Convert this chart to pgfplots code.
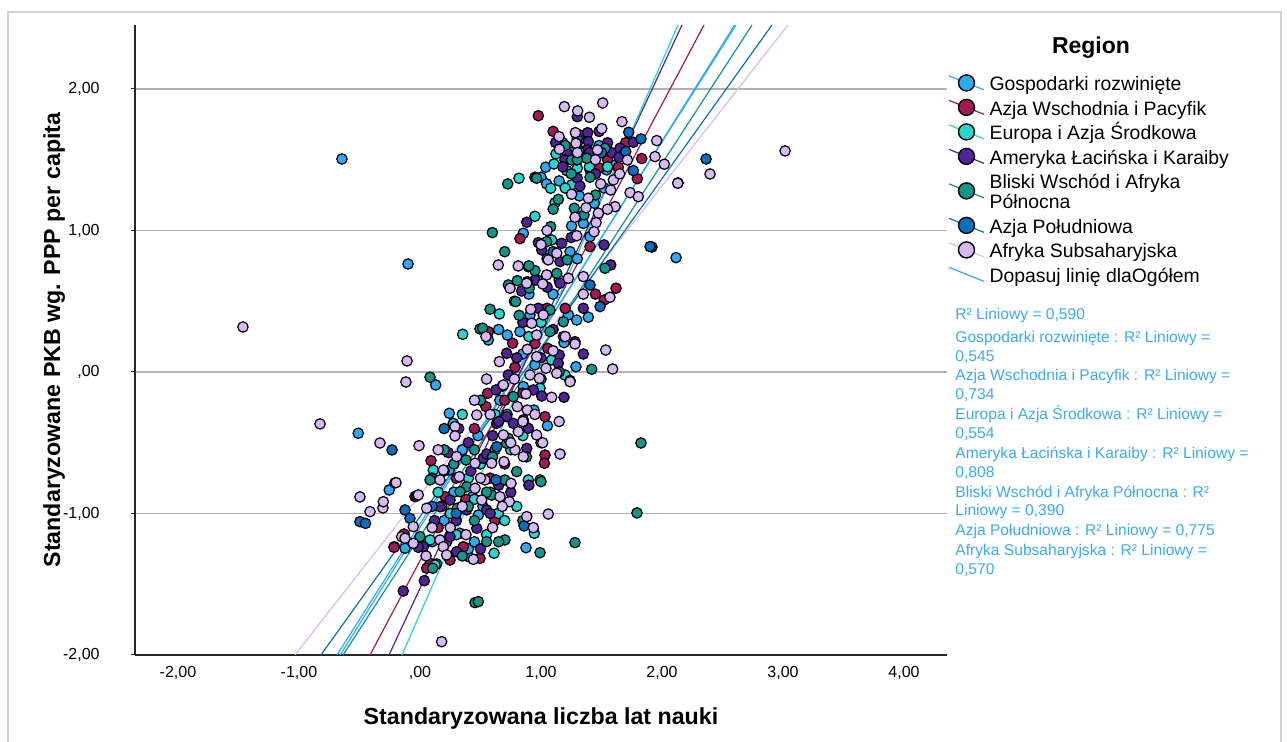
\documentclass[border=0pt]{standalone}
\usepackage{pgfplots}
\pgfplotsset{compat=1.18}
\usepackage{fontspec}
\setmainfont{Liberation Sans}
\definecolor{cG}{RGB}{46,170,245}
\definecolor{cAW}{RGB}{160,27,85}
\definecolor{cE}{RGB}{38,214,208}
\definecolor{cA}{RGB}{78,36,150}
\definecolor{cB}{RGB}{18,150,140}
\definecolor{cP}{RGB}{10,110,190}
\definecolor{cL}{RGB}{214,186,248}
\definecolor{cO}{RGB}{51,170,255}
\definecolor{cR}{RGB}{60,170,240}
\newcommand\ls{\rule[-2.5pt]{0pt}{11.7pt}}
\newcommand\ld{\rule[-2.5pt]{0pt}{2.5pt}}
\pgfplotsset{
  legimg/.style={legend image code/.code={%
    \draw[line width=0.6pt,#1] (0pt,3.5pt) -- (17.5pt,-3.5pt);
    \draw[fill=#1,draw=black,line width=0.7pt] (8.75pt,0pt) circle[radius=4pt];}},
  pts/.style={only marks, mark=*, mark size=2.6pt, mark options={fill=#1, draw=black, line width=0.6pt}, legimg=#1},
  fit/.style={#1, line width=0.6pt, forget plot}
}
\begin{document}
\begin{tikzpicture}
\useasboundingbox (0,0) rectangle (643.5pt,371pt);
\draw[black!18, line width=1pt] (4pt,0pt) -- (4pt,365pt) -- (640.5pt,365pt) -- (640.5pt,0pt);
\begin{axis}[
  at={(67.5pt,43.5pt)}, anchor=south west,
  scale only axis, width=406pt, height=315pt,
  xmin=-2.355, xmax=4.355, ymin=-2, ymax=2.452,
  axis x line*=bottom, axis y line*=left,
  axis line style={black!85, line width=0.6pt, -},
  xtick={-2,-1,0,1,2,3,4},
  xticklabels={{-2,00},{-1,00},{,00},{1,00},{2,00},{3,00},{4,00}},
  ytick={-2,-1,0,1,2},
  yticklabels={{-2,00},{-1,00},{,00},{1,00},{2,00}},
  tick align=outside, major tick length=2pt,
  xtick style={draw=none},
  ytick style={black!85, line width=0.5pt},
  ymajorgrids, grid style={black!30, line width=0.65pt},
  xticklabel style={font=\fontsize{8}{9.6}\selectfont, anchor=north, inner sep=0pt},
  yticklabel style={font=\fontsize{8}{9.6}\selectfont, anchor=east, inner sep=0pt},
  xticklabel shift=3.5pt, yticklabel shift=15.5pt,
  xlabel={Standaryzowana liczba lat nauki},
  ylabel={Standaryzowane PKB wg. PPP per capita},
  xlabel style={font=\bfseries\fontsize{11.6}{13}\selectfont, at={(axis description cs:0.5,-0.1016)}, anchor=center},
  ylabel style={font=\bfseries\fontsize{11.6}{13}\selectfont, at={(axis description cs:-0.0995,0.5)}, anchor=center},
  legend cell align=left,
  legend style={at={(1.0012,0.9257)}, anchor=north west, draw=none, fill=none, inner sep=0pt,
    font=\fontsize{9.7}{10}\selectfont, row sep=1.55pt, column sep=2.5pt,
    nodes={inner sep=0pt}, cells={anchor=west, align=left}},
]
% Gospodarki rozwiniete
\addplot[pts=cG] coordinates {
(-0.645,1.505) (-0.099,0.763) (0.130,-0.092) (-0.510,-0.433) (-0.254,-0.834) (-0.124,-1.246) (0.138,-1.357) (2.116,0.808)
(1.039,1.447) (1.212,1.423) (1.543,1.428) (1.612,1.463) (1.000,1.376) (1.047,1.329) (1.317,1.244) (1.441,1.192) (0.854,0.980) (1.253,1.032) (1.405,0.956) (1.240,0.850)
(0.970,0.650) (1.391,0.387) (1.295,0.367) (1.226,0.403) (0.909,0.403) (0.565,0.226) (0.722,0.261) (0.826,0.285) (1.190,0.207) (0.849,0.127) (1.289,0.037) (0.854,-0.104) (0.942,-0.269) (0.242,-0.292) (0.275,-0.363) (1.053,-0.380)
(0.242,-0.693) (0.435,-0.881) (0.482,-1.011) (0.399,-1.305) (0.331,-1.140) (0.876,-1.242)
(0.48,-0.45) (0.66,-0.20) (1.12,0.12) (0.78,0.50) (1.30,0.80) (1.48,1.60) (1.18,1.62)
(0.20,-1.05) (0.35,-0.55) (0.58,-0.85) (0.72,-0.30) (0.95,0.05) (1.10,0.55) (1.35,1.05) (1.52,1.30) (0.40,-1.25) (0.10,-1.20) (0.65,0.30) (1.25,1.55)
(0.52,-0.95) (0.28,-0.85) (0.90,0.55) (1.15,1.35) (0.62,-0.55) (0.18,-0.95) (1.00,-0.05) (0.45,-1.20)
};
\addlegendentry{\ls Gospodarki rozwinięte}
% Azja Wschodnia i Pacyfik
\addplot[pts=cAW] coordinates {
(0.978,1.811) (1.322,1.675) (1.832,1.508) (1.796,1.366) (1.405,1.428) (1.482,1.442) (1.639,1.447) (0.950,1.376) (0.826,0.942) (1.405,0.886)
(1.620,0.592) (1.523,0.509) (0.565,0.285) (0.766,0.203) (1.055,0.167) (0.785,0.033) (0.559,-0.151) (0.545,-0.245) (1.033,-0.316)
(0.091,-0.627) (1.033,-0.587) (1.028,-0.645) (0.207,-0.881) (-0.041,-0.881) (-0.212,-1.235) (0.358,-1.235) (0.496,-1.317) (0.083,-1.352)
(-0.028,-0.876) (-0.132,-1.145) (-0.215,-1.239) (0.055,-1.387) (0.248,-1.329)
(1.45,0.55) (0.95,0.20) (1.10,1.70)
(0.30,-0.75) (0.62,-1.05) (0.45,-0.40) (0.85,-0.15) (1.20,0.45) (1.30,1.10) (1.55,1.50) (0.15,-1.10) (1.70,1.62) (0.70,-0.65)
(0.38,-0.90) (0.70,-0.20) (1.25,1.50) (1.05,0.45) (0.22,-1.20) (0.58,-0.75)
};
\addlegendentry{\ls Azja Wschodnia i Pacyfik}
% Europa i Azja Srodkowa
\addplot[pts=cE] coordinates {
(0.353,0.266) (1.124,1.541) (1.300,1.440) (1.107,1.470) (0.818,1.369) (1.080,1.298) (1.253,1.322) (1.116,1.196) (1.088,0.933)
(0.656,0.410) (1.088,0.085) (1.198,-0.021) (0.992,-0.115)
(0.110,-0.693) (0.895,-0.763) (0.992,-0.763) (0.647,-0.999) (0.083,-1.187) (0.612,-1.281) (0.945,-1.140) (0.124,-1.364)
(0.75,-0.55) (0.62,-0.30) (0.90,0.25) (1.35,1.56) (1.55,1.45) (0.40,-0.75)
(0.25,-1.00) (0.50,-0.65) (0.80,-0.95) (0.35,-0.30) (1.00,0.35) (1.20,1.30) (0.95,1.10) (0.55,-1.15) (0.15,-0.85) (1.40,1.45) (0.68,-0.10)
(0.45,-0.90) (0.30,-1.15) (0.85,-0.45) (1.05,0.80) (1.30,1.62) (0.70,-1.05) (0.20,-0.70) (1.15,0.65)
};
\addlegendentry{\ls Europa i Azja Środkowa}
% Ameryka Lacinska i Karaiby
\addplot[pts=cA] coordinates {
(1.300,1.804) (1.763,1.623) (1.121,1.621) (1.386,1.691) (1.391,1.628) (1.218,1.541) (1.386,1.569) (1.584,1.550) (1.653,1.581) (1.645,1.517)
(1.198,1.498) (1.295,1.498) (1.300,1.369) (1.322,1.314) (0.882,1.058) (0.978,0.914) (1.171,0.909) (1.006,0.862) (1.157,0.780) (1.521,0.898) (0.895,0.744)
(1.157,0.627) (1.576,0.756) (0.840,0.572) (0.978,0.450) (1.281,0.214) (1.350,0.127) (0.716,0.132) (1.151,0.120) (1.143,0.061) (0.730,-0.021)
(1.240,-0.060) (0.628,-0.127) (0.937,-0.127) (1.006,-0.170) (1.190,-0.179) (0.716,-0.316) (0.634,-0.363)
(0.234,-0.570) (0.523,-0.610) (0.551,-0.580) (0.882,-0.540) (0.895,-0.398) (0.771,-0.363) (0.248,-0.905) (0.551,-0.975) (0.386,-0.975)
(0.165,-0.952) (0.028,-1.235) (0.248,-1.164) (0.303,-1.270) (0.469,-1.105) (-0.014,-1.239) (-0.138,-1.548) (0.036,-1.475)
(0.30,-1.05) (0.40,-0.50) (0.65,-0.80) (0.10,-0.75) (0.90,-0.80) (0.80,0.10) (1.05,0.60) (1.25,0.95) (1.45,1.40) (1.55,1.62) (0.50,-1.25) (1.10,0.30) (0.60,-0.45) (1.35,0.45)
(0.42,-0.70) (0.58,-1.00) (0.75,-0.85) (0.12,-1.05) (0.85,0.35) (1.00,0.10) (1.18,1.45) (1.40,1.55) (1.48,1.70) (0.65,-0.35) (0.32,-0.40) (0.95,0.65)
};
\addlegendentry{\ls Ameryka Łacińska i Karaiby}
% Bliski Wschod i Afryka Polnocna
\addplot[pts=cB] coordinates {
(0.083,-0.037) (0.496,0.304) (1.826,-0.502) (1.793,-0.996) (1.281,-1.206) (0.455,-1.630) (0.482,-1.623)
(1.314,1.557) (1.529,1.581) (1.253,1.498) (1.378,1.510) (0.964,1.369) (0.725,1.329) (1.405,1.376) (1.143,1.220) (1.275,1.157) (1.355,1.110)
(1.080,1.027) (0.598,0.985) (1.047,0.921) (1.217,0.792)
(0.950,0.716) (1.130,0.697) (0.730,0.615) (0.804,0.645) (0.887,0.638) (0.903,0.592) (1.529,0.733) (1.185,0.355) (0.791,0.497) (0.579,0.443)
(1.074,0.438) (0.518,0.309) (1.074,0.285) (1.419,0.019) (0.771,-0.174) (0.854,-0.351)
(0.380,-0.622) (0.716,-0.504) (0.799,-0.704) (0.854,-0.339) (0.730,-0.469) (0.083,-0.763) (0.386,-0.811) (0.702,-0.763) (1.000,-0.775)
(0.331,-0.846) (0.592,-0.870) (0.308,-0.963) (0.000,-1.164) (0.551,-1.199) (0.702,-1.187) (0.992,-1.277) (0.105,-1.387)
(0.20,-0.55) (0.45,-1.05) (0.60,-0.60) (0.85,-1.05) (1.00,-0.50) (0.70,0.85) (1.25,1.40) (1.45,1.25) (0.35,-1.30) (0.90,0.75) (1.15,0.00) (0.50,-0.20)
(0.55,-0.85) (0.40,-0.95) (0.28,-0.65) (0.65,-1.20) (0.88,-0.60) (1.10,1.15) (1.20,1.60) (0.82,0.40) (0.45,-0.55) (1.30,1.50)
};
\addlegendentry{\ls Bliski Wschód i Afryka\\Północna\ld}
% Azja Poludniowa
\addplot[pts=cP] coordinates {
(2.364,1.505) (1.917,0.883) (1.901,0.886) (1.725,1.694) (1.826,1.647) (1.700,1.557) (1.763,1.423) (1.405,0.615) (1.488,0.462) (1.185,0.250)
(-0.231,-0.551) (-0.496,-1.058) (-0.124,-0.975) (-0.083,-1.034) (0.634,-0.528) (0.628,-0.763) (0.860,-1.088) (-0.45,-1.07)
(1.30,1.65) (0.20,-0.40) (1.10,0.85) (0.10,-0.95) (1.50,1.55) (0.30,-1.00)
};
\addlegendentry{\ls Azja Południowa}
% Afryka Subsaharyjska
\addplot[pts=cL] coordinates {
(-1.463,0.318) (-0.107,0.078) (-0.116,-0.071) (-0.826,-0.367) (-0.331,-0.502) (-0.207,-0.784) (-0.496,-0.883) (-0.306,-0.961) (-0.413,-0.987)
(-0.008,-0.521) (0.179,-1.906) (3.017,1.562) (2.397,1.399) (2.132,1.336)
(1.193,1.875) (1.303,1.845) (1.510,1.901) (1.669,1.769) (1.502,1.720) (1.956,1.635) (1.149,1.663) (1.284,1.691) (1.289,1.616) (1.152,1.574)
(1.466,1.569) (1.714,1.498) (1.942,1.522) (2.019,1.468) (2.130,1.334) (1.493,1.329) (1.598,1.357) (1.576,1.286) (1.736,1.267) (1.804,1.239)
(1.391,1.228) (1.253,1.256) (1.612,1.168) (1.372,1.161) (1.281,1.093) (1.474,1.122) (1.455,1.055) (1.295,0.963) (1.438,0.991) (1.130,0.839)
(1.060,0.792) (0.647,0.756) (0.812,0.749)
(1.047,0.686) (0.882,0.627) (0.744,0.592) (1.014,0.622) (1.226,0.662) (1.350,0.674) (1.570,0.528) (0.915,0.443) (0.923,0.344) (1.019,0.403)
(0.545,0.250) (0.964,0.261) (1.281,0.198) (1.535,0.155) (0.656,0.073) (0.887,0.160) (0.964,0.108) (1.041,0.026) (1.592,0.021) (0.909,-0.021)
(0.986,-0.045) (1.130,-0.009) (1.240,-0.069) (0.689,-0.092) (1.088,-0.179) (0.876,-0.155) (0.469,-0.304) (0.289,-0.386) (0.804,-0.245) (0.887,-0.269)
(0.289,-0.452) (0.193,-0.693) (0.303,-0.598) (0.455,-0.645) (0.592,-0.645) (0.694,-0.634) (0.785,-0.551) (0.854,-0.598) (0.964,-0.445) (1.014,-0.500)
(1.157,-0.580) (0.812,-0.422) (0.689,-0.445) (0.165,-0.763) (0.325,-0.740) (0.455,-0.822) (0.537,-0.763) (0.752,-0.787) (0.510,-0.905) (0.661,-0.881)
(0.738,-0.917) (0.055,-0.963) (-0.014,-0.869) (-0.198,-0.782) (-0.303,-0.917) (-0.055,-1.093) (-0.151,-1.164) (-0.055,-1.211) (0.165,-1.187) (0.193,-1.235)
(0.441,-1.324) (0.882,-1.022) (1.060,-1.004) (0.937,-1.100) (0.220,-1.293) (-0.124,-1.175)
(0.35,-0.95) (0.60,-1.10) (0.75,-0.50) (0.15,-0.55) (0.05,-1.30) (0.45,-0.20) (1.20,0.25) (1.35,0.55) (1.05,1.00) (1.65,1.40) (1.40,1.80) (0.55,-0.05) (0.95,-0.30) (0.25,-1.10) (1.15,-0.35)
(0.50,-0.75) (0.68,-0.95) (0.38,-1.15) (0.10,-1.10) (0.85,-0.35) (0.58,-0.30) (1.10,0.15) (1.45,1.50) (1.30,1.55) (1.00,0.90) (1.55,1.15) (0.78,-0.05)
};
\addlegendentry{\ls Afryka Subsaharyjska}
% fit lines
\addplot[fit=cL] coordinates {(-1.033,-2) (3.041,2.452)};
\addplot[fit=cP] coordinates {(-0.818,-2) (2.909,2.452)};
\addplot[fit=cG] coordinates {(-0.686,-2) (2.612,2.452)};
\addplot[fit=cB] coordinates {(-0.636,-2) (2.744,2.452)};
\addplot[fit=cAW] coordinates {(-0.413,-2) (2.347,2.452)};
\addplot[fit=cA] coordinates {(-0.256,-2) (2.165,2.452)};
\addplot[fit=cE] coordinates {(-0.149,-2) (2.132,2.452)};
\addplot[cO, line width=0.6pt, legend image code/.code={\draw[cO,line width=0.6pt] (0pt,3.5pt) -- (17.5pt,-3.5pt);}]
  coordinates {(-0.660,-2) (2.600,2.452)};
\addlegendentry{\ls Dopasuj linię dlaOgółem}
\end{axis}
\node[font=\bfseries\fontsize{11.5}{13}\selectfont] at (545.5pt,347pt) {Region};
\begin{scope}[every node/.style={anchor=base west, inner sep=0pt, text=cR, font=\fontsize{7.8}{9}\selectfont}]
\node at (477.5pt,211.2pt) {R² Liniowy = 0,590};
\node at (477.5pt,199.55pt) {Gospodarki rozwinięte : R² Liniowy =};
\node at (477.5pt,190.35pt) {0,545};
\node at (477.5pt,180.7pt) {Azja Wschodnia i Pacyfik : R² Liniowy =};
\node at (477.5pt,171.05pt) {0,734};
\node at (477.5pt,161.2pt) {Europa i Azja Środkowa : R² Liniowy =};
\node at (477.5pt,151.55pt) {0,554};
\node at (477.5pt,141.7pt) {Ameryka Łacińska i Karaiby : R² Liniowy =};
\node at (477.5pt,132.35pt) {0,808};
\node at (477.5pt,122.35pt) {Bliski Wschód i Afryka Północna : R²};
\node at (477.5pt,113.2pt) {Liniowy = 0,390};
\node at (477.5pt,103.2pt) {Azja Południowa : R² Liniowy = 0,775};
\node at (477.5pt,93.2pt) {Afryka Subsaharyjska  : R² Liniowy =};
\node at (477.5pt,83.55pt) {0,570};
\end{scope}
\end{tikzpicture}
\end{document}
